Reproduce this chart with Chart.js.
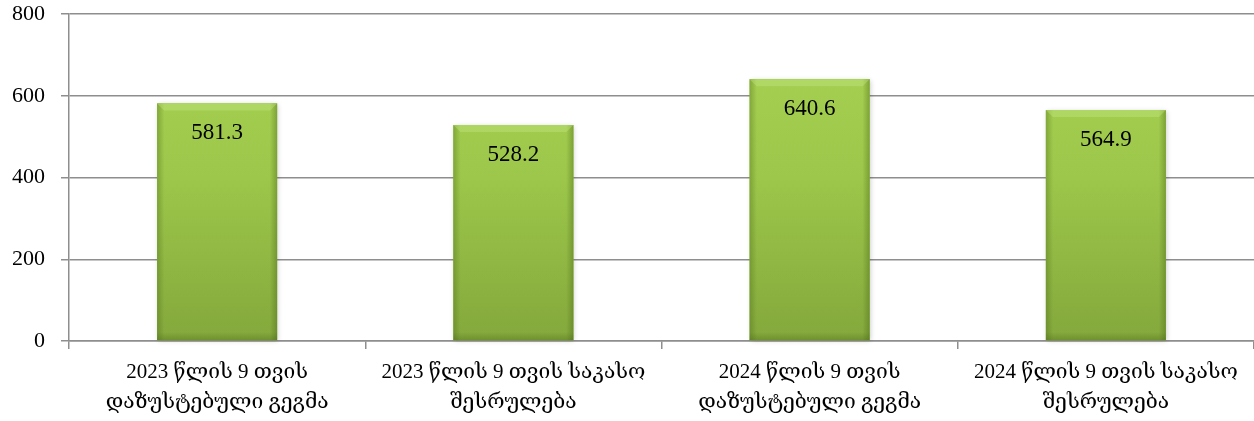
<!DOCTYPE html>
<html>
<head>
<meta charset="utf-8">
<script src="https://cdn.jsdelivr.net/npm/chart.js@4.4.1/dist/chart.umd.min.js"></script>
<style>
    html, body { margin: 0; padding: 0; background: #fff; }
    #wrap { width: 1254px; height: 421px; }
</style>
</head>
<body>
<div id="wrap"><canvas id="budgetChart"></canvas></div>
<script>
// Categories (two-line labels) and values
const labels = [
    ['2023 წლის 9 თვის', 'დაზუსტებული გეგმა'],
    ['2023 წლის 9 თვის საკასო', 'შესრულება'],
    ['2024 წლის 9 თვის', 'დაზუსტებული გეგმა'],
    ['2024 წლის 9 თვის საკასო', 'შესრულება']
];
const values = [581.3, 528.2, 640.6, 564.9];
const yTicks = [0, 200, 400, 600, 800];

// Latin digits from Liberation Serif, Georgian falls back to DejaVu Serif
const FONT = "'Liberation Serif', 'DejaVu Serif', serif";
const GRID = '#8e8e8e';

// Vertical green gradient for the bars
function barFill(ctx) {
    const chart = ctx.chart;
    const area = chart.chartArea;
    if (!area) return '#98c046';
    const g = chart.ctx.createLinearGradient(0, area.top, 0, area.bottom);
    g.addColorStop(0, '#aad353');
    g.addColorStop(0.5, '#9cc74a');
    g.addColorStop(1, '#84a83c');
    return g;
}

// Soft shadow, side shading, top bevel and value labels
const barDecor = {
    id: 'barDecor',
    beforeDatasetsDraw(chart) {
        const ctx = chart.ctx;
        const meta = chart.getDatasetMeta(0);
        ctx.save();
        meta.data.forEach(bar => {
            const w = bar.width;
            const left = bar.x - w / 2;
            ctx.shadowColor = 'rgba(0,0,0,0.22)';
            ctx.shadowBlur = 5;
            ctx.shadowOffsetX = 1;
            ctx.shadowOffsetY = 1;
            ctx.fillStyle = '#8fb542';
            ctx.fillRect(left, bar.y, w, bar.base - bar.y);
        });
        ctx.restore();
    },
    afterDatasetsDraw(chart) {
        const ctx = chart.ctx;
        const meta = chart.getDatasetMeta(0);
        ctx.save();
        meta.data.forEach((bar, i) => {
            const w = bar.width;
            const left = bar.x - w / 2;
            const right = bar.x + w / 2;
            const h = bar.base - bar.y;
            // darker side edges
            const g = ctx.createLinearGradient(left, 0, right, 0);
            g.addColorStop(0, 'rgba(70,100,20,0.35)');
            g.addColorStop(0.06, 'rgba(70,100,20,0)');
            g.addColorStop(0.94, 'rgba(70,100,20,0)');
            g.addColorStop(1, 'rgba(70,100,20,0.4)');
            ctx.fillStyle = g;
            ctx.fillRect(left, bar.y, w, h);
            // top bevel
            ctx.fillStyle = 'rgba(200,235,140,0.35)';
            ctx.beginPath();
            ctx.moveTo(left, bar.y);
            ctx.lineTo(right, bar.y);
            ctx.lineTo(right - 7, bar.y + 7);
            ctx.lineTo(left + 7, bar.y + 7);
            ctx.closePath();
            ctx.fill();
            // bottom edge
            const b = ctx.createLinearGradient(0, bar.base - 8, 0, bar.base);
            b.addColorStop(0, 'rgba(60,90,20,0)');
            b.addColorStop(1, 'rgba(60,90,20,0.3)');
            ctx.fillStyle = b;
            ctx.fillRect(left, bar.base - 8, w, 8);
            // value label
            ctx.fillStyle = '#000';
            ctx.font = "23px " + FONT;
            ctx.textAlign = 'center';
            ctx.textBaseline = 'middle';
            ctx.fillText(values[i].toFixed(1), bar.x, bar.y + 30);
        });
        ctx.restore();
    }
};

new Chart(document.getElementById('budgetChart'), {
    type: 'bar',
    data: {
        labels: labels,
        datasets: [{
            data: values,
            backgroundColor: barFill,
            borderWidth: 0,
            categoryPercentage: 0.405,
            barPercentage: 1
        }]
    },
    options: {
        responsive: true,
        maintainAspectRatio: false,
        animation: false,
        layout: { padding: { top: 0, right: 0, left: 8, bottom: 0 } },
        plugins: {
            legend: { display: false },
            tooltip: { enabled: false }
        },
        scales: {
            y: {
                min: 0,
                max: 800,
                afterBuildTicks(scale) {
                    scale.ticks = yTicks.map(v => ({ value: v }));
                },
                afterFit(scale) {
                    scale.width = 61;
                    scale.paddingTop = 14;
                },
                grid: {
                    color: GRID,
                    lineWidth: 1.5,
                    tickLength: 8
                },
                border: { color: GRID, width: 1.5 },
                ticks: {
                    color: '#000',
                    font: { family: FONT, size: 22 },
                    padding: 16
                }
            },
            x: {
                afterFit(scale) {
                    scale.height = 80;
                },
                grid: {
                    color: GRID,
                    lineWidth: 1.5,
                    drawOnChartArea: false,
                    tickLength: 8,
                    offset: true
                },
                border: { color: GRID, width: 1.5 },
                ticks: {
                    color: '#000',
                    font: { family: FONT, size: 21, lineHeight: 1.45 },
                    padding: 8,
                    maxRotation: 0,
                    autoSkip: false
                }
            }
        }
    },
    plugins: [barDecor]
});
</script>
</body>
</html>
